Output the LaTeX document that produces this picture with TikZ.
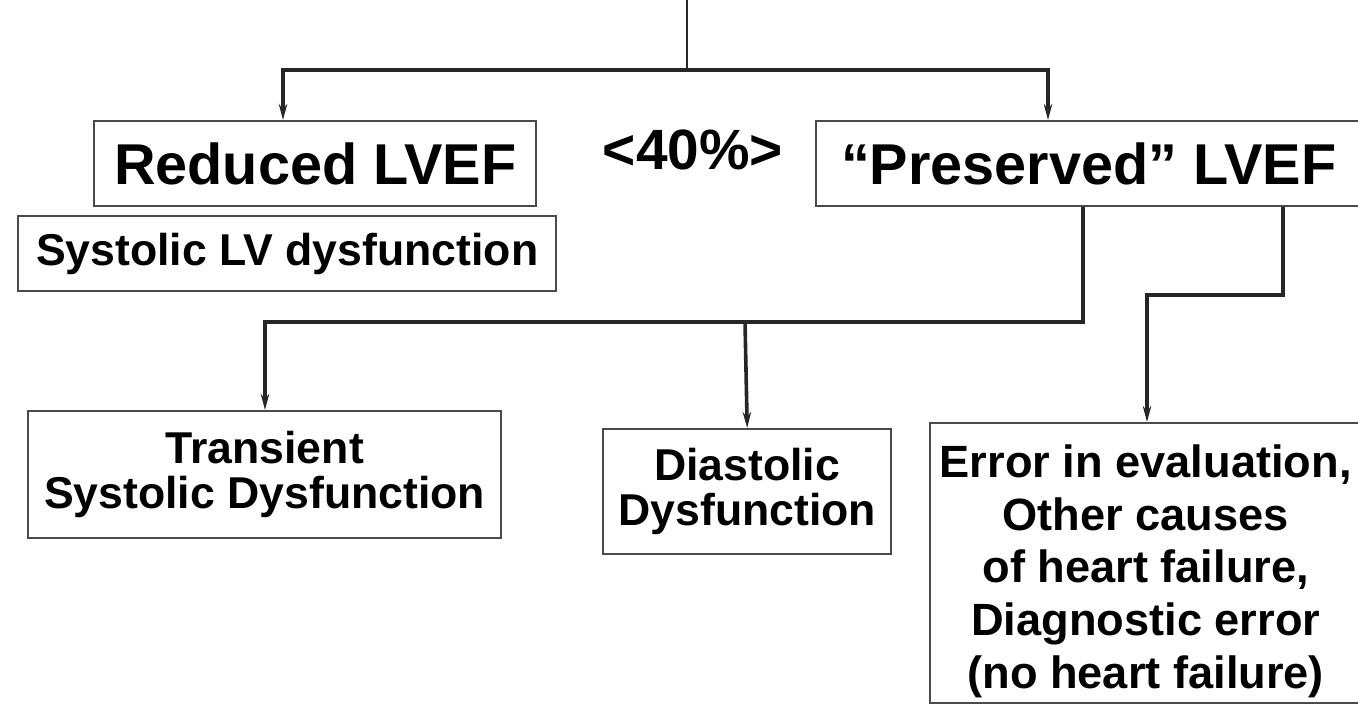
\documentclass[tikz,border=0pt]{standalone}
\usepackage{fontspec}
\setmainfont{Liberation Sans}
\usetikzlibrary{arrows.meta,calc}
\definecolor{boxgray}{HTML}{4A4A4A}
\definecolor{linegray}{HTML}{262626}
\begin{document}
\begin{tikzpicture}[x=0.5pt,y=-0.5pt,
  box/.style={draw=boxgray,line width=1.2pt,anchor=north west,inner sep=0pt,
    align=center,font=\bfseries\fontsize{22.3}{22.5}\selectfont},
  bigbox/.style={box,font=\bfseries\fontsize{28.8}{30}\selectfont},
  conn/.style={line width=1.8pt,draw=linegray},
  arr/.style={conn,-{Stealth[length=8pt,width=4.2pt]}}]
\useasboundingbox (0,0) rectangle (1358,705);

% boxes
\node[bigbox,minimum width=221pt,minimum height=42.5pt] (red) at (93,120) {Reduced LVEF};
\node[box,minimum width=269pt,minimum height=37.5pt] (sys) at (17,215) {Systolic LV dysfunction};
\node[font=\bfseries\fontsize{28.4}{30}\selectfont,inner sep=0pt] (lim) at (693,150) {<40\%>};
\node[bigbox,minimum width=272.5pt,minimum height=42.5pt] (pres) at (815,120) {“Preserved” LVEF};
\node[box,minimum width=236.5pt,minimum height=63.5pt] (trans) at (27,410) {Transient\\Systolic Dysfunction};
\node[box,minimum width=144pt,minimum height=62.5pt] (dia) at (602,428) {Diastolic\\Dysfunction};
\node[box,minimum width=215.5pt,minimum height=140pt] (err) at (929,422) {};
\node[align=center,inner sep=0pt,font=\bfseries\fontsize{22.6}{26.4}\selectfont]
  (errtext) at ($(err.center)+(0,8)$)
  {Error in evaluation,\\Other causes\\of heart failure,\\Diagnostic error\\(no heart failure)};

% connectors from the top
\coordinate (top) at (687,0);
\coordinate (fork) at (687,70);
\draw[conn,line width=1pt] (top) -- (fork);
\draw[arr] (fork) -| ($(red.north west)+(190,0)$);
\draw[arr] (fork) -| ($(pres.north west)+(233,0)$);

% branches below the preserved box
\coordinate (bar) at (745,322);
\draw[conn] ($(pres.south west)+(268,0)$) |- (bar);
\draw[arr] (bar) -| ($(trans.north west)+(238,0)$);
\draw[arr] (bar) -- (dia.north);
\coordinate (bend) at (1147,295);
\draw[arr] ($(pres.south west)+(468,0)$) |- (bend) -- (err.north -| bend);
\end{tikzpicture}
\end{document}
